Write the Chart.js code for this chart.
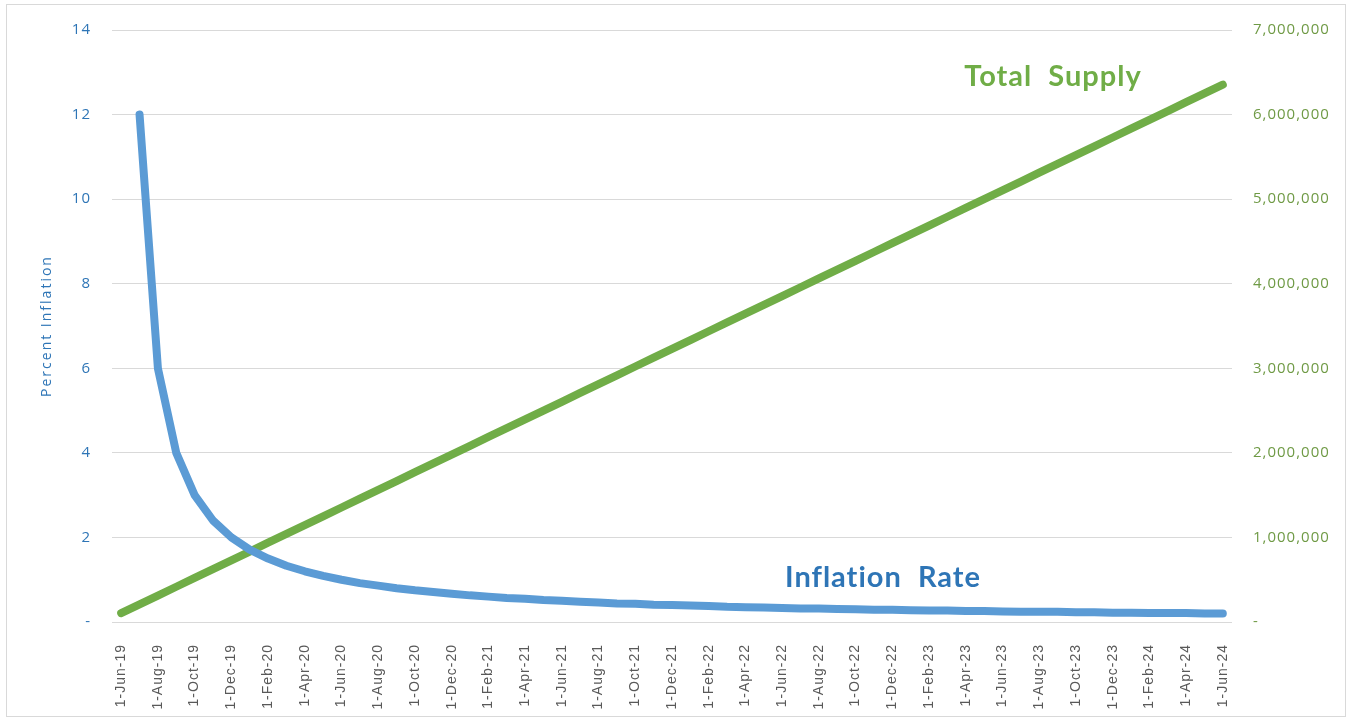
<!DOCTYPE html>
<html>
<head>
<meta charset="utf-8">
<script src="https://cdn.jsdelivr.net/npm/chart.js@4"></script>
<style>
  body { margin: 0; background: #fff; }
  #wrap { position: absolute; left: 0; top: 0; width: 1351px; height: 719px; }
  #frame { position: absolute; left: 6px; top: 4px; width: 1340px; height: 713px; border: 1px solid #d9d9d9; box-sizing: border-box; pointer-events: none; }
</style>
</head>
<body>
<div id="wrap">
  <canvas id="grafico" width="1351" height="719"></canvas>
  <div id="frame"></div>
</div>
<script>
// Meses (eixo X)
const meses = [
  '1-Jun-19','1-Jul-19','1-Aug-19','1-Sep-19','1-Oct-19','1-Nov-19','1-Dec-19',
  '1-Jan-20','1-Feb-20','1-Mar-20','1-Apr-20','1-May-20','1-Jun-20','1-Jul-20','1-Aug-20','1-Sep-20','1-Oct-20','1-Nov-20','1-Dec-20',
  '1-Jan-21','1-Feb-21','1-Mar-21','1-Apr-21','1-May-21','1-Jun-21','1-Jul-21','1-Aug-21','1-Sep-21','1-Oct-21','1-Nov-21','1-Dec-21',
  '1-Jan-22','1-Feb-22','1-Mar-22','1-Apr-22','1-May-22','1-Jun-22','1-Jul-22','1-Aug-22','1-Sep-22','1-Oct-22','1-Nov-22','1-Dec-22',
  '1-Jan-23','1-Feb-23','1-Mar-23','1-Apr-23','1-May-23','1-Jun-23','1-Jul-23','1-Aug-23','1-Sep-23','1-Oct-23','1-Nov-23','1-Dec-23',
  '1-Jan-24','1-Feb-24','1-Mar-24','1-Apr-24','1-May-24','1-Jun-24'
];

// Taxa de inflação (%), começa em Jul-19
const inflacao = [
  null, 12, 6, 4, 3, 2.4, 2, 1.71, 1.5, 1.33, 1.2,
  1.09, 1, 0.92, 0.86, 0.8, 0.75, 0.71, 0.67, 0.63, 0.6,
  0.57, 0.55, 0.52, 0.5, 0.48, 0.46, 0.44, 0.43, 0.41, 0.4,
  0.39, 0.38, 0.36, 0.35, 0.34, 0.33, 0.32, 0.32, 0.31, 0.3,
  0.29, 0.29, 0.28, 0.27, 0.27, 0.26, 0.26, 0.25, 0.24, 0.24,
  0.24, 0.23, 0.23, 0.22, 0.22, 0.21, 0.21, 0.21, 0.2, 0.2
];

// Oferta total
const oferta = [
  104000, 208000, 313000, 417000, 521000, 625000, 729000, 833000, 938000, 1042000,
  1146000, 1250000, 1354000, 1458000, 1563000, 1667000, 1771000, 1875000, 1979000, 2083000,
  2188000, 2292000, 2396000, 2500000, 2604000, 2708000, 2813000, 2917000, 3021000, 3125000,
  3229000, 3333000, 3438000, 3542000, 3646000, 3750000, 3854000, 3958000, 4063000, 4167000,
  4271000, 4375000, 4479000, 4583000, 4688000, 4792000, 4896000, 5000000, 5104000, 5208000,
  5313000, 5417000, 5521000, 5625000, 5729000, 5833000, 5938000, 6042000, 6146000, 6250000,
  6354000
];

const azul = '#5b9bd5';
const verde = '#70ad47';
const fonte = "'Open Sans', 'Liberation Sans', sans-serif";

// Espaçamento entre letras para todo o texto do gráfico
const espacamento = {
  id: 'espacamento',
  beforeDraw(chart) {
    chart.ctx.letterSpacing = '1px';
  }
};

// Título do eixo e rótulos dentro do gráfico
const rotulos = {
  id: 'rotulos',
  afterDatasetsDraw(chart) {
    const ctx = chart.ctx;
    const area = chart.chartArea;
    ctx.save();
    ctx.textAlign = 'center';
    ctx.textBaseline = 'middle';

    // Percent Inflation (vertical)
    ctx.letterSpacing = '2px';
    ctx.font = "14px 'Open Sans', sans-serif";
    ctx.fillStyle = '#2e75b6';
    ctx.translate(47, (area.top + area.bottom) / 2);
    ctx.rotate(-Math.PI / 2);
    ctx.fillText('Percent Inflation', 0, 0);
    ctx.setTransform(1, 0, 0, 1, 0, 0);

    ctx.letterSpacing = '1px';
    ctx.font = "bold 29px Lato, 'Open Sans', sans-serif";
    ctx.fillStyle = verde;
    ctx.fillText('Total  Supply', 1053, 77);
    ctx.fillStyle = '#2e75b6';
    ctx.fillText('Inflation  Rate', 883, 578);
    ctx.restore();
  }
};

const fmt = v => v === 0 ? '-' : v.toLocaleString('en-US');

new Chart(document.getElementById('grafico').getContext('2d'), {
  type: 'line',
  data: {
    labels: meses,
    datasets: [
      {
        label: 'Inflation Rate',
        data: inflacao,
        yAxisID: 'y',
        borderColor: azul,
        borderWidth: 8,
        borderCapStyle: 'round',
        borderJoinStyle: 'round',
        pointRadius: 0,
        tension: 0
      },
      {
        label: 'Total Supply',
        data: oferta,
        yAxisID: 'y2',
        borderColor: verde,
        borderWidth: 8,
        borderCapStyle: 'round',
        borderJoinStyle: 'round',
        pointRadius: 0,
        tension: 0
      }
    ]
  },
  options: {
    responsive: false,
    animation: false,
    layout: { padding: { top: 25, bottom: 0, left: 0, right: 0 } },
    plugins: { legend: { display: false }, tooltip: { enabled: false } },
    scales: {
      x: {
        offset: true,
        grid: { display: false },
        border: { display: false },
        ticks: {
          autoSkip: false,
          maxRotation: 90,
          minRotation: 90,
          padding: 14,
          color: '#595959',
          font: { family: "'Liberation Sans', Arial, sans-serif", size: 14 },
          callback: function (val, i) { return i % 2 === 0 ? this.getLabelForValue(val) : ''; }
        },
        afterFit: s => { s.height = 97; }
      },
      y: {
        position: 'left',
        min: 0, max: 14,
        grid: { color: '#d9d9d9', lineWidth: 1, drawTicks: false },
        border: { display: false },
        ticks: {
          stepSize: 2,
          padding: 21,
          color: '#2e75b6',
          font: { family: fonte, size: 15 },
          callback: v => v === 0 ? '-' : v
        },
        afterFit: s => { s.width = 112; }
      },
      y2: {
        position: 'right',
        min: 0, max: 7000000,
        grid: { display: false, drawTicks: false },
        border: { display: false },
        ticks: {
          stepSize: 1000000,
          padding: 21,
          color: '#6f9a45',
          font: { family: fonte, size: 15 },
          callback: fmt
        },
        afterFit: s => { s.width = 119; }
      }
    }
  },
  plugins: [espacamento, rotulos]
});
</script>
</body>
</html>
